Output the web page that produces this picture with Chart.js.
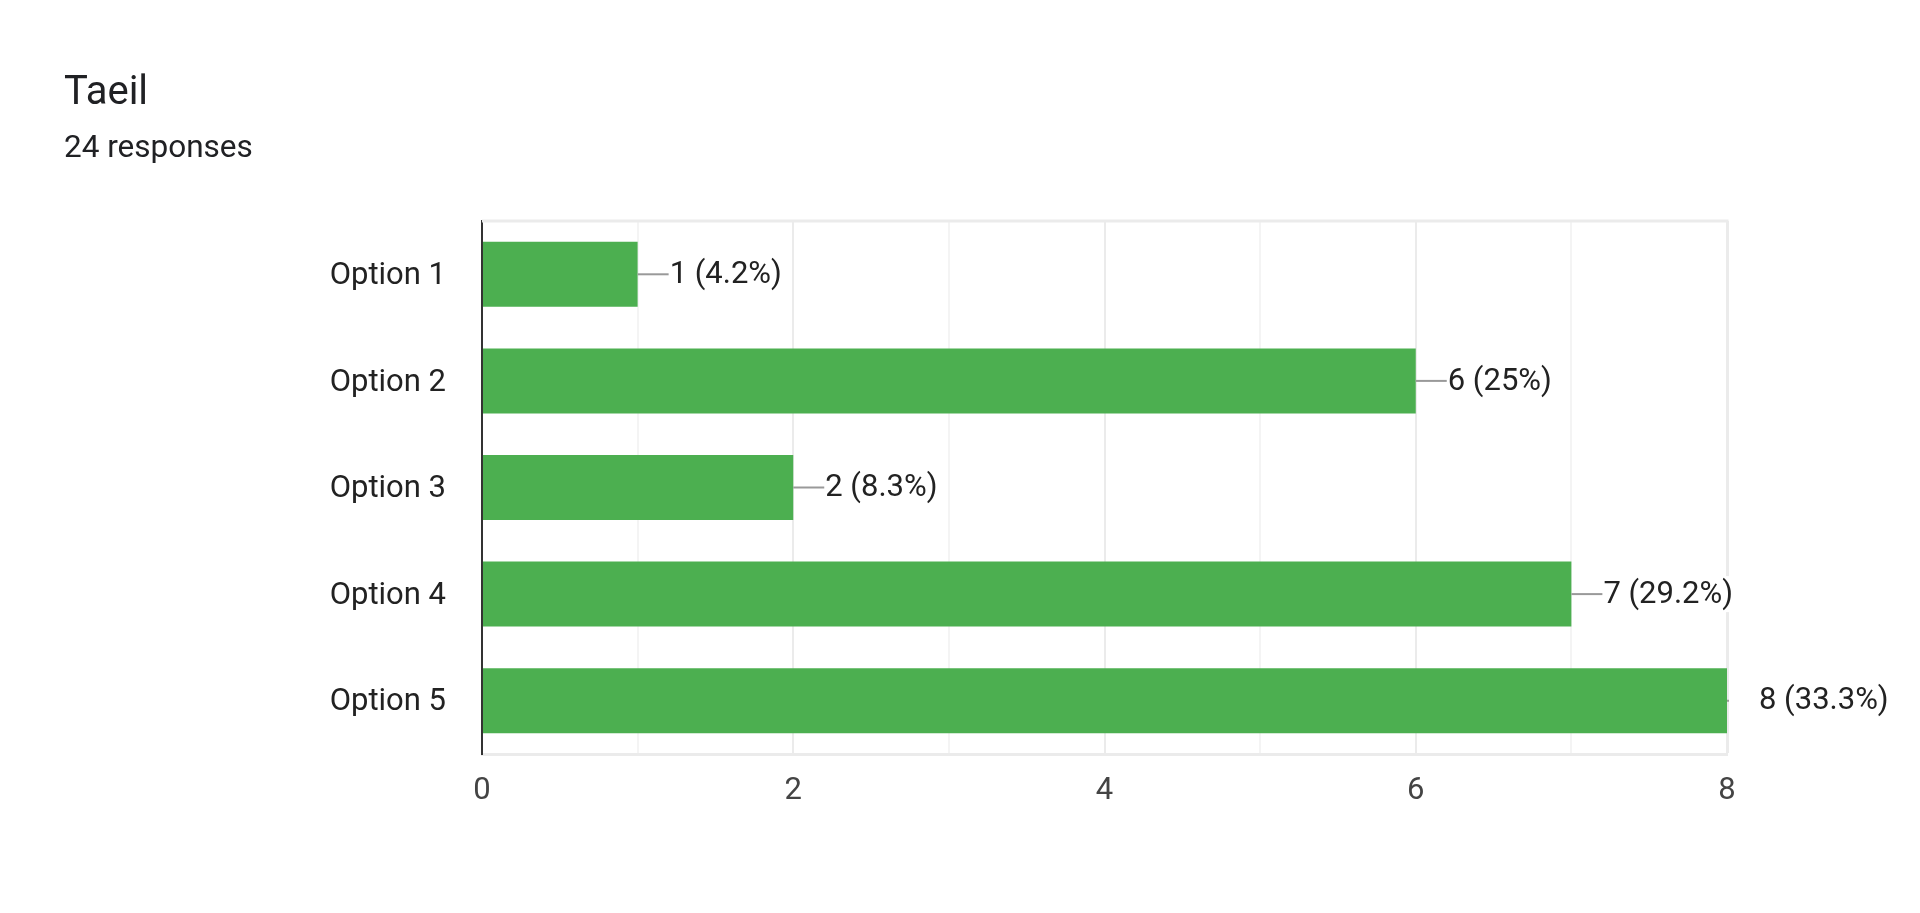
<!DOCTYPE html>
<html>
<head>
<meta charset="utf-8">
<script src="https://cdn.jsdelivr.net/npm/chart.js@4/dist/chart.umd.min.js"></script>
<style>
  body { margin: 0; background: #fff; font-family: Roboto, "Noto Sans", sans-serif; }
  #wrap { position: relative; width: 1920px; height: 913px; }
  #title { position: absolute; left: 64px; top: 71px; font-size: 40px; line-height: 40px; color: #202124; }
  #subtitle { position: absolute; left: 64px; top: 131px; font-size: 31.5px; line-height: 31.5px; color: #202124; }
  canvas { position: absolute; left: 0; top: 0; }
</style>
</head>
<body>
<div id="wrap">
  <canvas id="myChart" width="1920" height="913"></canvas>
  <div id="title">Taeil</div>
  <div id="subtitle">24 responses</div>
</div>
<script>
const ctx = document.getElementById('myChart');

// chart data
const options = ['Option 1', 'Option 2', 'Option 3', 'Option 4', 'Option 5'];
const counts = [1, 6, 2, 7, 8];
const total = 24;
const xTicks = [0, 2, 4, 6, 8];

function pct(v) {
    let p = Math.round(v / total * 1000) / 10;
    return v + ' (' + p + '%)';
}

// value labels with the short leader line
const valueLabels = {
    id: 'valueLabels',
    afterDatasetsDraw(chart) {
        const c = chart.ctx;
        const area = chart.chartArea;
        const meta = chart.getDatasetMeta(0);
        c.save();
        c.font = '31px Roboto';
        c.textBaseline = 'middle';
        meta.data.forEach(function (bar, i) {
            let x = bar.x;
            let y = bar.y;
            let lineEnd = Math.min(x + 31, area.right + 2);
            c.strokeStyle = '#999999';
            c.lineWidth = 2;
            c.beginPath();
            c.moveTo(x, y);
            c.lineTo(lineEnd, y);
            c.stroke();
            let text = pct(counts[i]);
            let w = c.measureText(text).width;
            c.fillStyle = '#ffffff';
            c.fillRect(x + 32, y - 18, w + 2, 36);
            c.fillStyle = '#222222';
            c.textAlign = 'left';
            c.fillText(text, x + 32, y + 1);
        });
        c.restore();
    }
};

// light top border of the plot
const topBorder = {
    id: 'topBorder',
    beforeDatasetsDraw(chart) {
        const c = chart.ctx;
        const area = chart.chartArea;
        c.save();
        c.strokeStyle = '#ebebeb';
        c.lineWidth = 3;
        c.beginPath();
        c.moveTo(area.left, area.top);
        c.lineTo(area.right + 1.5, area.top);
        c.stroke();
        c.restore();
    }
};

new Chart(ctx, {
    type: 'bar',
    data: {
        labels: options,
        datasets: [
            {
                label: 'Taeil',
                data: counts,
                backgroundColor: '#4caf50',
                borderWidth: 0,
                categoryPercentage: 1,
                barPercentage: 0.61
            }
        ]
    },
    options: {
        indexAxis: 'y',
        responsive: false,
        animation: false,
        devicePixelRatio: 1,
        layout: {
            padding: { left: 0, top: 221, right: 193, bottom: 79 }
        },
        plugins: {
            legend: { display: false },
            tooltip: { enabled: false }
        },
        scales: {
            x: {
                min: 0,
                max: 8,
                afterFit: function (s) { s.height = 80; },
                ticks: {
                    stepSize: 1,
                    padding: 19,
                    color: '#444444',
                    font: { family: 'Roboto', size: 31 },
                    maxRotation: 0,
                    autoSkip: false,
                    callback: function (v) { return xTicks.includes(v) ? String(v) : ''; }
                },
                grid: {
                    drawTicks: false,
                    color: function (c) { return c.tick && c.tick.value % 2 === 0 ? '#ebebeb' : '#f4f4f4'; },
                    lineWidth: function (c) { return c.tick && c.tick.value === 8 ? 3 : 2; }
                },
                border: { color: '#ebebeb', width: 3 }
            },
            y: {
                afterFit: function (s) { s.width = 482; },
                ticks: {
                    padding: 36,
                    labelOffset: 2,
                    color: '#222222',
                    font: { family: 'Roboto', size: 31 }
                },
                grid: { display: false, drawTicks: false },
                border: { color: '#333333', width: 2 }
            }
        }
    },
    plugins: [topBorder, valueLabels]
});
</script>
</body>
</html>
